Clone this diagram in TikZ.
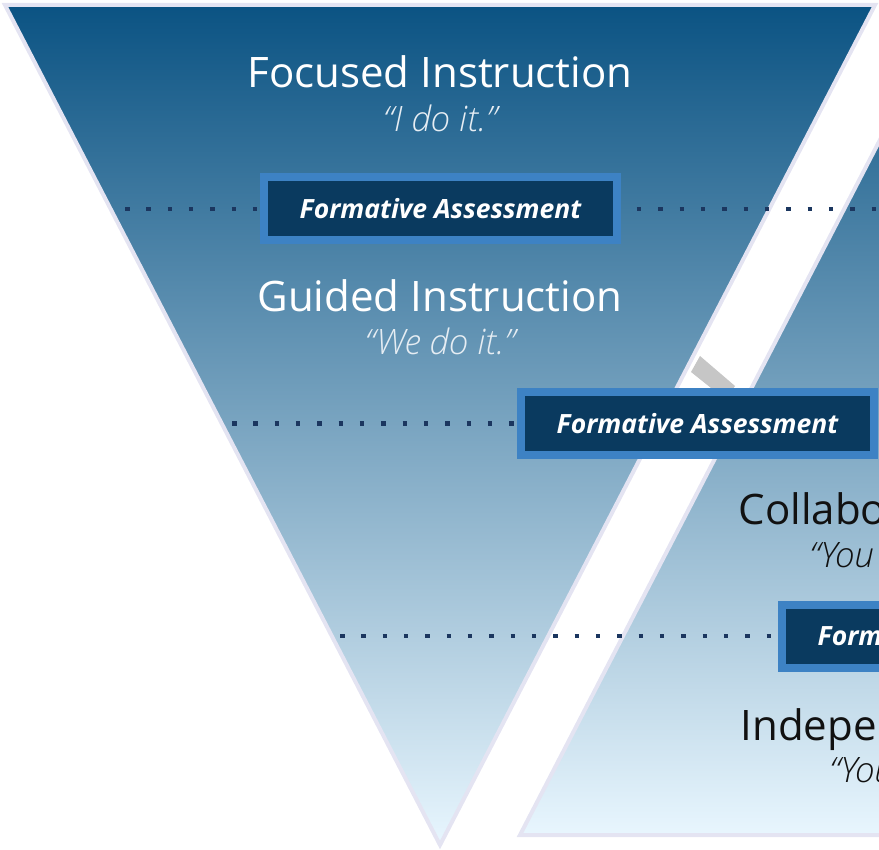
\documentclass[tikz,border=0pt]{standalone}
\usepackage{fontspec}
\setmainfont{Open Sans}
\newfontfamily\quotefont{Open Sans Light}[ItalicFont={Open Sans Light Italic}]
\usetikzlibrary{positioning}

\definecolor{topblue}{HTML}{0B5383}
\definecolor{lowblue}{HTML}{E8F6FE}
\definecolor{rim}{HTML}{E4E4F2}
\definecolor{boxfill}{HTML}{0A3A5F}
\definecolor{boxrim}{HTML}{3D82C4}
\definecolor{dotblue}{HTML}{1B365F}
\definecolor{barshade}{HTML}{C6C6C6}
\definecolor{quotewhite}{HTML}{E6EDF3}
\definecolor{darktext}{HTML}{111111}

\pgfdeclarelayer{base}
\pgfdeclarelayer{links}
\pgfsetlayers{base,links,main}

\tikzset{
  fabox/.style={draw=boxrim, fill=boxfill, line width=8pt, minimum width=353pt,
    minimum height=63pt, inner sep=0pt, text=white,
    font=\fontsize{26.5}{30}\selectfont\bfseries\itshape},
  dotline/.style={dotblue, line width=4.5pt, dash pattern=on 4.5pt off 16.83pt},
  title/.style={font=\fontsize{42}{46}\selectfont, anchor=base},
  saying/.style={font=\quotefont\itshape\fontsize{35}{38}\selectfont, anchor=base},
}

\begin{document}
\begin{tikzpicture}[x=1pt, y=-1pt]
    \useasboundingbox (0,0) rectangle (879,850);
    \clip (0,0) rectangle (879,850);

    % the two funnels
    \begin{pgfonlayer}{base}
    \shade[top color=topblue, bottom color=lowblue] (5,5) -- (875,5) -- (440,845) -- cycle;
    \draw[rim, line width=4pt] (5,5) -- (875,5) -- (440,845) -- cycle;
    \shade[top color=topblue, bottom color=lowblue] (955,-5) -- (1390,835) -- (520,835) -- cycle;
    \draw[rim, line width=4pt] (955,-5) -- (1390,835) -- (520,835) -- cycle;

    % grey bar in the gap
    \fill[barshade] (700,356) -- (735,386) -- (726,400) -- (691,372) -- cycle;
    \end{pgfonlayer}

    % stage labels
    \node[title, text=white] (focused) at (440,88) {Focused Instruction};
    \node[saying, text=quotewhite] (ido) at (440,132) {“I do it.”};
    \node[title, text=white] (guided) at (440,312) {Guided Instruction};
    \node[saying, text=quotewhite] (wedo) at (440,355) {“We do it.”};
    \node[title, text=darktext, anchor=base west] (collab) at (735,524) {Collaborative Learning};
    \node[saying, text=darktext, anchor=base west] (youtog) at (806,567) {“You do it together.”};
    \node[title, text=darktext, anchor=base west] (indep) at (737,740) {Independent Learning};
    \node[saying, text=darktext, anchor=base west] (youalone) at (826,782) {“You do it alone.”};

    % assessment boxes
    \node[fabox] (fa1) at (440.5,209) {Formative Assessment};
    \node[fabox] (fa2) at (697.5,423.5) {Formative Assessment};
    \node[fabox] (fa3) at (958.5,636) {Formative Assessment};

    % dotted guides
    \coordinate (d1l) at (125,209);
    \coordinate (d1r) at (900,209);
    \coordinate (d2) at (232,423.5);
    \coordinate (d3) at (340,636);
    \begin{pgfonlayer}{links}
    \draw[dotline] (d1l) -- (fa1.center) -- (d1r);
    \draw[dotline] (d2) -- (fa2.center);
    \draw[dotline] (d3) -- (fa3.center);
    \end{pgfonlayer}
\end{tikzpicture}
\end{document}
